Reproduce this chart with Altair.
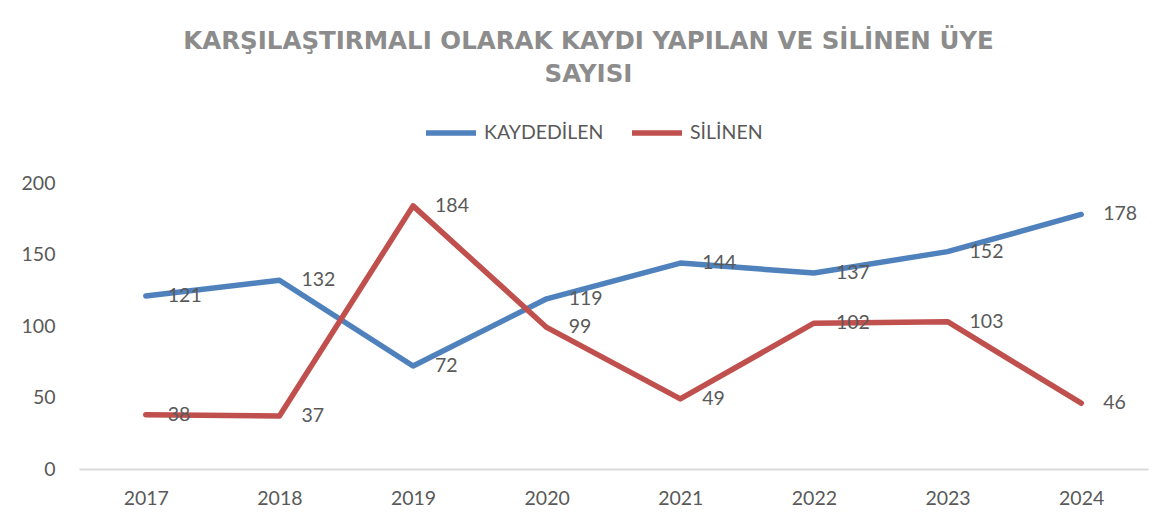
import altair as alt
import pandas as pd

years = ["2017", "2018", "2019", "2020", "2021", "2022", "2023", "2024"]
kaydedilen = [121, 132, 72, 119, 144, 137, 152, 178]
silinen = [38, 37, 184, 99, 49, 102, 103, 46]
series_names = ["KAYDEDİLEN", "SİLİNEN"]
series_colors = ["#4f81bd", "#c0504d"]
y_ticks = [0, 50, 100, 150, 200]
title_lines = ["KARŞILAŞTIRMALI OLARAK KAYDI YAPILAN VE SİLİNEN ÜYE", "SAYISI"]

rows = []
for name, vals in zip(series_names, [kaydedilen, silinen]):
    for yr, v in zip(years, vals):
        rows.append({"Yıl": yr, "Seri": name, "Değer": v})
df = pd.DataFrame(rows)

FONT = "Lato"
TXT = "#595959"

x = alt.X(
    "Yıl:O", sort=years,
    scale=alt.Scale(type="point", padding=0.5),
    axis=alt.Axis(title=None, labelAngle=0, ticks=False, domainColor="#d9d9d9",
                  domainWidth=2, labelPadding=20, labelFontSize=19.5, labelColor=TXT,
                  labelFont=FONT, grid=False),
)
y = alt.Y(
    "Değer:Q",
    scale=alt.Scale(domain=[0, 200], nice=False),
    axis=alt.Axis(title=None, values=y_ticks, domain=False, ticks=False, grid=False,
                  labelPadding=24, labelFontSize=19.5, labelColor=TXT, labelFont=FONT),
)
color = alt.Color(
    "Seri:N",
    scale=alt.Scale(domain=series_names, range=series_colors),
    legend=alt.Legend(title=None, orient="none", legendX=344, legendY=-78,
                      direction="horizontal", symbolType="stroke", symbolSize=2500,
                      symbolStrokeWidth=5.5, labelFontSize=19.5, labelColor=TXT,
                      labelFont=FONT, columnPadding=17, labelOffset=5),
)

lines = alt.Chart(df).mark_line(strokeWidth=5.5, strokeCap="round", strokeJoin="round").encode(
    x=x, y=y, color=color
)
labels = alt.Chart(df).mark_text(
    align="left", baseline="middle", dx=22, fontSize=19.5, color=TXT, font=FONT
).encode(x=x, y=y, text="Değer:Q", detail="Seri:N")

chart = (
    alt.layer(lines, labels)
    .properties(
        width=1069, height=286,
        background="white",
        autosize=alt.AutoSizeParams(type="none"),
        padding={"left": 71, "top": 175, "right": 18, "bottom": 55},
        title=alt.TitleParams(text=title_lines, font="DejaVu Sans", fontSize=24.5,
                              fontWeight="bold", color="#8c8c8c", lineHeight=33,
                              anchor="middle", offset=18, dx=-25),
    )
    .configure_view(stroke=None)
)

chart.save("out.html", embed_options={"renderer": "svg", "actions": False})
